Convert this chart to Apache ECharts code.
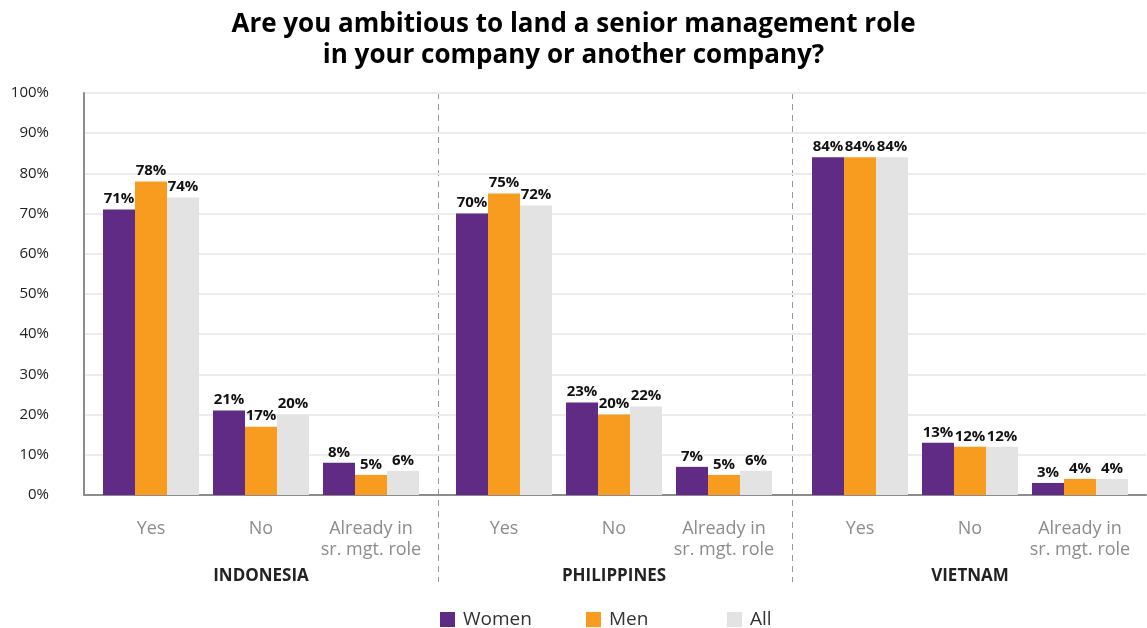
<!DOCTYPE html>
<html>
<head>
<meta charset="utf-8">
<script src="https://cdn.jsdelivr.net/npm/echarts@6/dist/echarts.min.js"></script>
<style>
  html, body { margin: 0; padding: 0; background: #fff; }
  #chart { width: 1147px; height: 628px; }
</style>
</head>
<body>
<div id="chart"></div>
<script>
// data
const countries = ['INDONESIA', 'PHILIPPINES', 'VIETNAM']
const answers = ['Yes', 'No', 'Already in\nsr. mgt. role']
const seriesNames = ['Women', 'Men', 'All']
const women = [[71, 21, 8], [70, 23, 7], [84, 13, 3]]
const men = [[78, 17, 5], [75, 20, 5], [84, 12, 4]]
const all = [[74, 20, 6], [72, 22, 6], [84, 12, 4]]
const yTicks = [0, 10, 20, 30, 40, 50, 60, 70, 80, 90, 100]

const colors = ['#5f2b85', '#f89c1f', '#e3e3e3']
const font = 'Open Sans'

// layout
const plotLeft = 84
const plotRight = 1
const plotTop = 93
const plotBottom = 133
const groupLeft = [96, 449, 805]
const groupWidth = 330
const legendLeft = [435, 581, 722]

const chart = echarts.init(document.getElementById('chart'))

const grids = [{ left: plotLeft, right: plotRight, top: plotTop, bottom: plotBottom }]
const xAxes = [{
  gridIndex: 0, type: 'value', min: 0, max: 1,
  axisLine: { show: true, lineStyle: { color: '#8c8c8c', width: 2 } },
  axisTick: { show: false }, axisLabel: { show: false }, splitLine: { show: false }
}]
const yAxes = [{
  gridIndex: 0, type: 'value', min: yTicks[0], max: yTicks[yTicks.length - 1], interval: 10,
  axisLine: { show: true, lineStyle: { color: '#8c8c8c', width: 2 } },
  axisTick: { show: false },
  axisLabel: { formatter: '{value}%', color: '#222', fontSize: 15, fontFamily: font, margin: 35 },
  splitLine: { lineStyle: { color: '#ececec', width: 2 } }
}]
const series = []
const groupData = [women, men, all]

countries.forEach(function (c, i) {
  grids.push({ left: groupLeft[i], width: groupWidth, top: plotTop, bottom: plotBottom })
  xAxes.push({
    gridIndex: i + 1, type: 'category', data: answers,
    axisLine: { show: false }, axisTick: { show: false },
    axisLabel: { interval: 0, color: '#8c8c8c', fontSize: 18, fontFamily: font, lineHeight: 21, margin: 23 },
    name: c, nameLocation: 'middle', nameGap: 73,
    nameTextStyle: { color: '#222', fontSize: 17, fontWeight: 'bold', fontFamily: font }
  })
  yAxes.push({ gridIndex: i + 1, type: 'value', min: 0, max: 100, show: false })
  seriesNames.forEach(function (n, k) {
    series.push({
      name: n, type: 'bar', xAxisIndex: i + 1, yAxisIndex: i + 1,
      data: groupData[k][i], barWidth: 32, barGap: '0%',
      itemStyle: { color: colors[k] },
      label: {
        show: true, position: 'top', distance: 3, formatter: '{c}%',
        color: '#111', fontSize: 15, fontWeight: 'bold', fontFamily: font
      }
    })
  })
})

// one legend per entry so they sit evenly spaced like the original
const legends = seriesNames.map(function (n, k) {
  return {
    data: [n], left: legendLeft[k], top: 605,
    icon: 'rect', itemWidth: 15, itemHeight: 15,
    textStyle: { fontSize: 19, color: '#333', fontFamily: font, padding: [0, 0, 0, 3] }
  }
})

// dashed separators between the country groups
const graphics = []
for (let i = 1; i < countries.length; i++) {
  const x = Math.round((groupLeft[i - 1] + groupWidth + groupLeft[i]) / 2) + 0.5
  graphics.push({
    type: 'line', silent: true,
    shape: { x1: x, y1: plotTop, x2: x, y2: 582 },
    style: { stroke: '#999', lineWidth: 1, lineDash: [6, 5] }
  })
}

const option = {
  animation: false,
  title: {
    text: 'Are you ambitious to land a senior management role\nin your company or another company?',
    left: 'center', top: 4,
    textStyle: { fontSize: 26, fontWeight: 'bold', color: '#000', lineHeight: 31, fontFamily: font }
  },
  legend: legends,
  grid: grids,
  xAxis: xAxes,
  yAxis: yAxes,
  series: series,
  graphic: graphics
}
chart.setOption(option)
</script>
</body>
</html>
